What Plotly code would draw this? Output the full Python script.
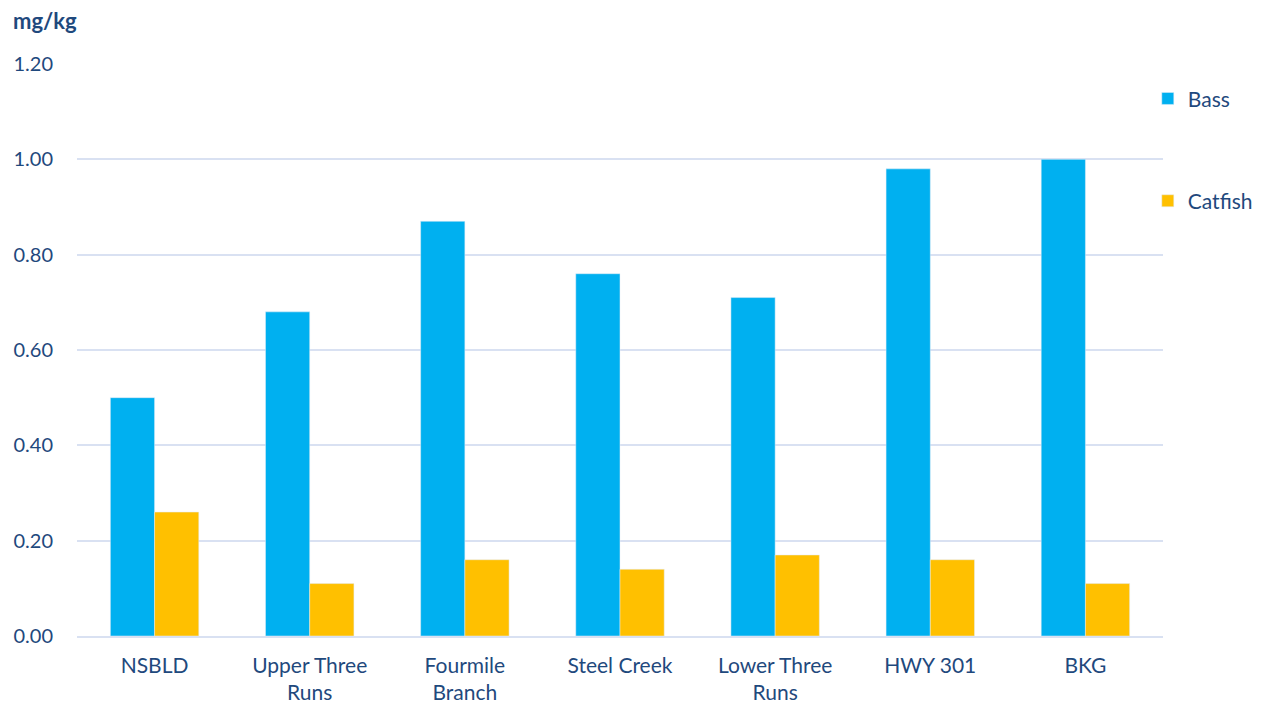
import plotly.graph_objects as go

categories = ["NSBLD", "Upper Three<br>Runs", "Fourmile<br>Branch", "Steel Creek",
              "Lower Three<br>Runs", "HWY 301", "BKG"]
bass = [0.50, 0.68, 0.87, 0.76, 0.71, 0.98, 1.00]
catfish = [0.26, 0.11, 0.16, 0.14, 0.17, 0.16, 0.11]
tick_vals = [0, 0.2, 0.4, 0.6, 0.8, 1.0, 1.2]

txt = "#1F497D"
font = "Lato"

fig = go.Figure()
fig.add_trace(go.Bar(x=categories, y=bass, name="Bass", marker_color="#00B0F0",
                     legendgroup="a"))
fig.add_trace(go.Bar(x=categories, y=catfish, name="Catfish", marker_color="#FFC000",
                     legendgroup="b"))

fig.update_layout(
    width=1265, height=706,
    margin=dict(l=69, r=110, t=56, b=78),
    plot_bgcolor="white", paper_bgcolor="white",
    barmode="group", bargap=0.43, bargroupgap=0,
    font=dict(family=font, color=txt, size=20),
    xaxis=dict(showgrid=False, showline=True, linecolor="#D9E1F2", linewidth=1.5,
               ticks="", ticklabelstandoff=10, automargin=False,
               tickfont=dict(size=21, color=txt)),
    yaxis=dict(range=[0, 1.2], tickvals=tick_vals, tickformat=".2f",
               showgrid=True, gridcolor="#D9E1F2", gridwidth=1.5,
               zeroline=False, ticks="", ticklabelstandoff=23, automargin=False,
               tickfont=dict(size=20, color=txt)),
    legend=dict(x=0.986, y=0.975, xanchor="left", yanchor="top",
                bgcolor="rgba(0,0,0,0)",
                font=dict(size=21, color=txt), tracegroupgap=72,
                itemwidth=30),
    showlegend=True,
    annotations=[dict(text="<b>mg/kg</b>", xref="paper", yref="paper",
                      x=-0.0605, y=1.0, xanchor="left", yanchor="bottom",
                      yshift=28, showarrow=False,
                      font=dict(size=22, color=txt, family=font))],
)

fig.write_html("out.html")
